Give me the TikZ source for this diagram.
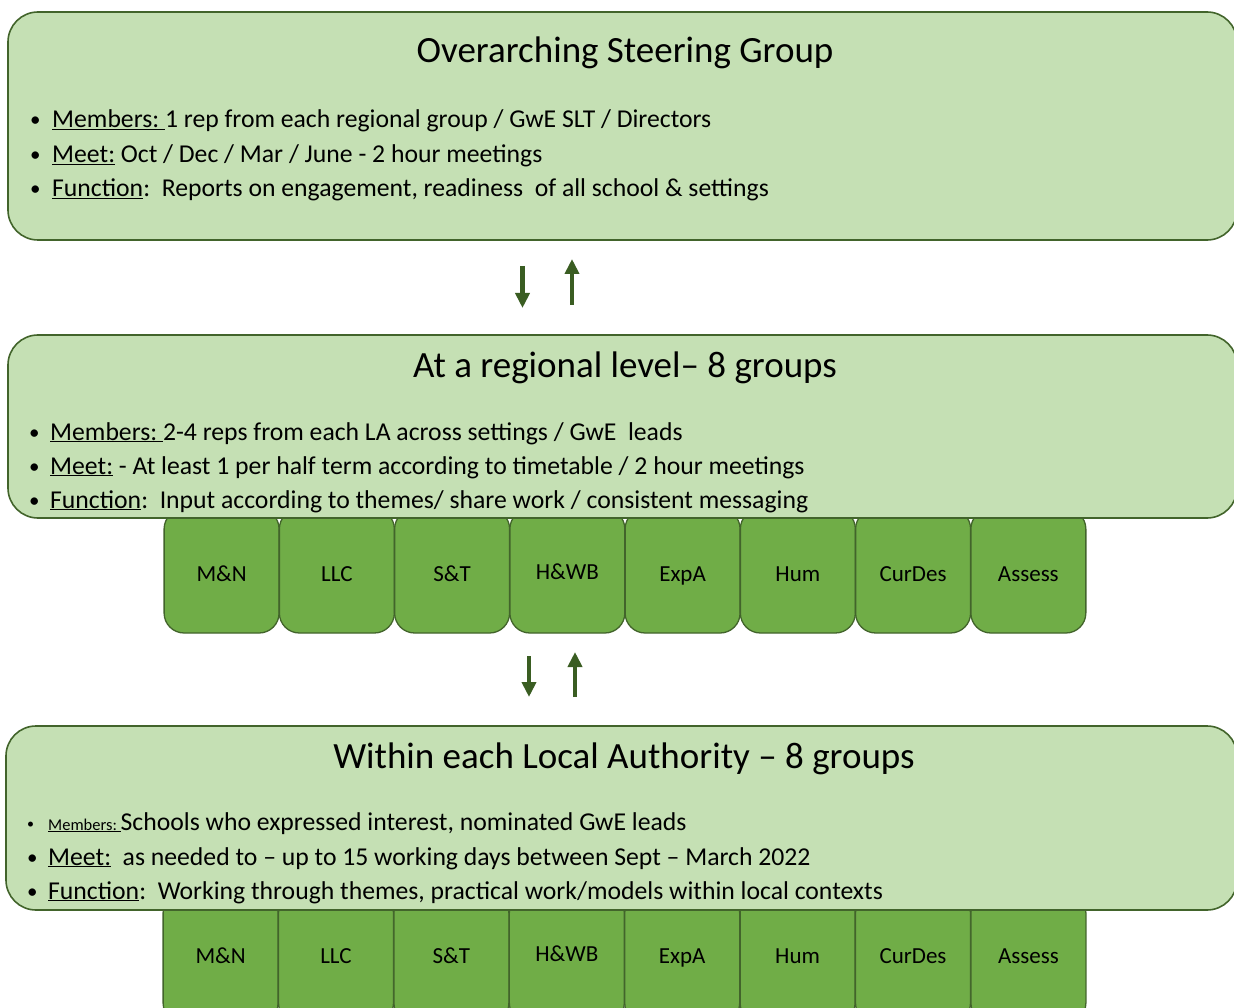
\documentclass[tikz,border=0pt]{standalone}
\usepackage{fontspec}
\setmainfont{Carlito}
\usetikzlibrary{arrows.meta}
\definecolor{lightfill}{HTML}{C5E0B4}
\definecolor{darkline}{HTML}{42642B}
\definecolor{midfill}{HTML}{70AD47}
\definecolor{arrowcol}{HTML}{3A5D22}
\newcommand{\bul}{\raisebox{1pt}{\fontsize{21pt}{22pt}\selectfont •}}
\tikzset{
  bigbox/.style={draw=darkline, line width=1.6pt, fill=lightfill, rounded corners=30pt, rectangle, inner sep=0pt},
  subbox/.style={draw=darkline, line width=1.3pt, fill=midfill, rounded corners=20pt, rectangle, inner sep=0pt,
     minimum width=115pt, minimum height=124pt},
  sublabel/.style={font=\fontsize{23pt}{26pt}\selectfont, text=black, inner sep=0pt, anchor=base},
  titletext/.style={font=\fontsize{37pt}{40pt}\selectfont, text=black, inner sep=0pt, anchor=base},
  linetext/.style={font=\fontsize{25.7pt}{28pt}\selectfont, text=black, inner sep=0pt, anchor=base west},
  flowarrow/.style={draw=arrowcol, line width=4.5pt, -{Triangle[length=15pt,width=14pt]}}
}
\begin{document}
\begin{tikzpicture}[x=1pt,y=-1pt]
\useasboundingbox (0,0) rectangle (1234,1008);
% sub boxes row 1
\foreach \i/\lab/\dy in {0/M\&N/0,1/LLC/0,2/S\&T/0,3/H\&WB/-2,4/ExpA/0,5/Hum/0,6/CurDes/0,7/Assess/0}{
  \node[subbox] (ra\i) at ({164+115.25*\i+57.6},571) {};
  \node[sublabel] (ral\i) at ({164+115.25*\i+57.6},581+\dy) {\lab};
}
% sub boxes row 2
\foreach \i/\lab/\dy in {0/M\&N/0,1/LLC/0,2/S\&T/0,3/H\&WB/-2,4/ExpA/0,5/Hum/0,6/CurDes/0,7/Assess/0}{
  \node[subbox, minimum height=130pt] (rb\i) at ({163+115.4*\i+57.6},958) {};
  \node[sublabel] (rbl\i) at ({163+115.4*\i+57.6},963+\dy) {\lab};
}
% big boxes
\node[bigbox, minimum width=1229pt, minimum height=228pt] (top) at (622.5,126) {};
\node[bigbox, minimum width=1229pt, minimum height=183pt] (mid) at (622.5,426.5) {};
\node[bigbox, minimum width=1231pt, minimum height=184pt] (bot) at (621.5,818) {};
% box 1 text
\node[titletext] (t1) at (625,63) {Overarching Steering Group};
\node[linetext] (t1a) at (30,128) {\makebox[22pt][l]{\bul}\underline{Members:\ }1 rep from each regional group / GwE SLT / Directors};
\node[linetext] (t1b) at (30,163) {\makebox[22pt][l]{\bul}\underline{Meet:} Oct / Dec / Mar / June - 2 hour meetings};
\node[linetext] (t1c) at (30,197) {\makebox[22pt][l]{\bul}\underline{Function}:\ \ Reports on engagement, readiness\ \ of all school \& settings};
% box 2 text
\node[titletext] (t2) at (625,377) {At a regional level– 8 groups};
\node[linetext] (t2a) at (29,440) {\makebox[21pt][l]{\bul}\underline{Members:\ }2-4 reps from each LA across settings / GwE\ \ leads};
\node[linetext] (t2b) at (29,474) {\makebox[21pt][l]{\bul}\underline{Meet:} - At least 1 per half term according to timetable / 2 hour meetings};
\node[linetext] (t2c) at (29,508) {\makebox[21pt][l]{\bul}\underline{Function}:\ \ Input according to themes/\ share work / consistent messaging};
% box 3 text
\node[titletext] (t3) at (624,768) {Within each Local Authority – 8 groups};
\node[linetext] (t3a) at (27,830) {\makebox[21pt][l]{\raisebox{2pt}{\fontsize{14pt}{16pt}\selectfont•}}{\fontsize{16.5pt}{18pt}\selectfont\underline{Members:\ }}Schools who expressed interest, nominated GwE leads};
\node[linetext] (t3b) at (27,865) {\makebox[21pt][l]{\bul}\underline{Meet:}\ \ as needed to – up to 15 working days between Sept – March 2022};
\node[linetext] (t3c) at (27,899) {\makebox[21pt][l]{\bul}\underline{Function}:\ \ Working through themes, practical work/models within local contexts};
% arrows
\coordinate (a1s) at (522.5,266);
\coordinate (a1e) at (522.5,308);
\coordinate (a2s) at (572,305);
\coordinate (a2e) at (572,259);
\coordinate (a3s) at (529,656);
\coordinate (a3e) at (529,697);
\coordinate (a4s) at (575,697);
\coordinate (a4e) at (575,652);
\draw[flowarrow] (a1s) -- (a1e);
\draw[flowarrow] (a2s) -- (a2e);
\draw[flowarrow] (a3s) -- (a3e);
\draw[flowarrow] (a4s) -- (a4e);
\end{tikzpicture}
\end{document}
